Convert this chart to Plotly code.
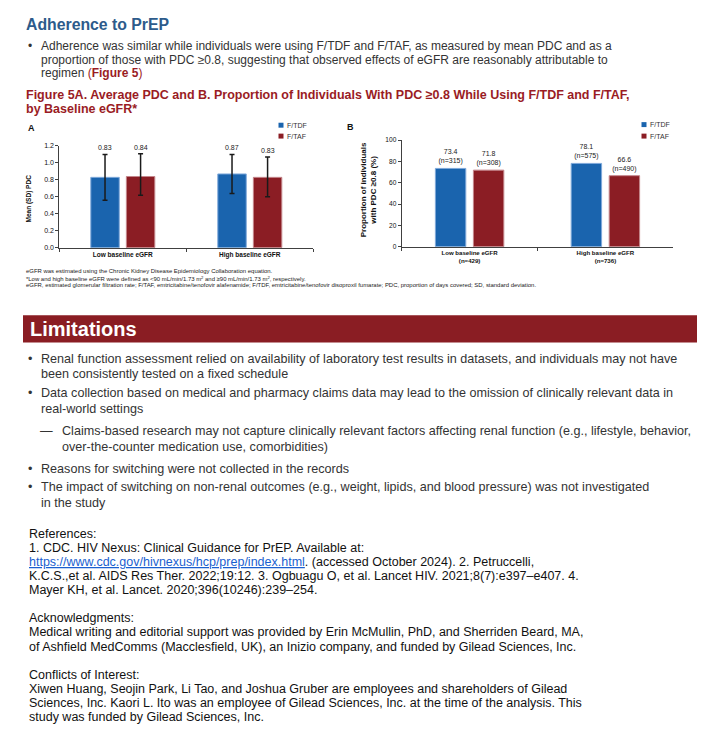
import plotly.graph_objects as go

# the page body has an 8px margin, so the figure is drawn 16px smaller
PAGE_W, PAGE_H, OFF = 715, 743, 8
W, H = PAGE_W - 2 * OFF, PAGE_H - 2 * OFF
FONT = "Arial, Liberation Sans, sans-serif"
TDF_COLOR = "#1a64ae"
TAF_COLOR = "#8b1d24"
TITLE_BLUE = "#2d5b8b"
FIG_RED = "#9a1c24"
TEXT_COLOR = "#333333"
BODY = 12.5

SERIES = ["F/TDF", "F/TAF"]

# Figure 5A: mean (SD) PDC
categories_a = ["Low baseline eGFR", "High baseline eGFR"]
tdf_pdc = [0.83, 0.87]
taf_pdc = [0.84, 0.83]
tdf_sd_up = [0.27, 0.23]
tdf_sd_down = [0.27, 0.23]
taf_sd_up = [0.27, 0.24]
taf_sd_down = [0.22, 0.23]
ticks_a = [0.0, 0.2, 0.4, 0.6, 0.8, 1.0, 1.2]

# Figure 5B: proportion with PDC >= 0.8
categories_b = ["Low baseline eGFR<br>(n=429)", "High baseline eGFR<br>(n=736)"]
tdf_prop = [73.4, 78.1]
taf_prop = [71.8, 66.6]
tdf_n = [315, 575]
taf_n = [308, 490]
ticks_b = [0, 20, 40, 60, 80, 100]


def px(x):
    return (x - OFF) / W


def py(y):
    return 1 - (y - OFF) / H


fig = go.Figure()

# --- panel A
for name, vals, up, down, color, line in [
    (SERIES[0], tdf_pdc, tdf_sd_up, tdf_sd_down, TDF_COLOR, "#7fa9da"),
    (SERIES[1], taf_pdc, taf_sd_up, taf_sd_down, TAF_COLOR, "#c4868b"),
]:
    fig.add_trace(
        go.Bar(
            x=categories_a,
            y=vals,
            name=name,
            marker=dict(color=color, line=dict(color=line, width=1)),
            error_y=dict(type="data", symmetric=False, array=up, arrayminus=down,
                         color="#1a1a1a", thickness=1.5, width=2.5),
            xaxis="x", yaxis="y", showlegend=False,
        )
    )

# --- panel B
for name, vals, ns, color, line in [
    (SERIES[0], tdf_prop, tdf_n, TDF_COLOR, "#7fa9da"),
    (SERIES[1], taf_prop, taf_n, TAF_COLOR, "#c4868b"),
]:
    fig.add_trace(
        go.Bar(
            x=categories_b,
            y=vals,
            name=name,
            marker=dict(color=color, line=dict(color=line, width=1)),
            text=[f"{v:.1f}<br>(n={n})" for v, n in zip(vals, ns)],
            textposition="outside",
            constraintext="none",
            cliponaxis=False,
            textfont=dict(size=7, color="#222222", family=FONT),
            xaxis="x2", yaxis="y2", showlegend=False,
        )
    )

axis_common = dict(
    showgrid=False, zeroline=False, showline=True, linecolor="#404040",
    linewidth=1, ticks="outside", ticklen=3, tickcolor="#404040",
)
fig.update_layout(
    width=W, height=H,
    margin=dict(l=0, r=0, t=0, b=0),
    paper_bgcolor="white", plot_bgcolor="white",
    font=dict(family=FONT, color=TEXT_COLOR),
    barmode="group", bargap=0.44, bargroupgap=0.2,
    xaxis=dict(domain=[px(59.3), px(313.3)], anchor="y", tickson="boundaries",
               tickfont=dict(size=6.5, color="#111111", weight="bold"), **axis_common),
    yaxis=dict(domain=[py(246), py(143.3)], anchor="x", range=[0, 1.2],
               tickvals=ticks_a, tickformat=".1f",
               tickfont=dict(size=7, color="#111111"), **axis_common),
    xaxis2=dict(domain=[px(401.7), px(673.3)], anchor="y2", tickson="boundaries",
                tickfont=dict(size=6.1, color="#111111", weight="bold"), **axis_common),
    yaxis2=dict(domain=[py(245), py(137.3)], anchor="x2", range=[0, 100],
                tickvals=ticks_b, tickfont=dict(size=6.6, color="#111111"), **axis_common),
)

ann = []


def text(x, y, s, size=BODY, color=TEXT_COLOR, bold=False, **kw):
    ann.append(dict(
        x=px(x), y=py(y), xref="paper", yref="paper", text=f"<b>{s}</b>" if bold else s,
        showarrow=False, xanchor=kw.pop("xanchor", "left"), yanchor=kw.pop("yanchor", "middle"),
        font=dict(size=size, color=color, family=FONT), **kw,
    ))


# value labels above the error bars in panel A
for vals, up, shift in [(tdf_pdc, tdf_sd_up, -18), (taf_pdc, taf_sd_up, 18)]:
    for c, v, e in zip(categories_a, vals, up):
        ann.append(dict(x=c, y=v + e, xref="x", yref="y", text=f"{v:.2f}", showarrow=False,
                        xshift=shift, yshift=1, yanchor="bottom",
                        font=dict(size=7, color="#222222", family=FONT)))

# legends
for lx, rows in [(278.5, (122.3, 133.3)), (641.5, (121.7, 133.3))]:
    for name, color, ry in zip(SERIES, [TDF_COLOR, TAF_COLOR], rows):
        fig.add_shape(type="rect", xref="paper", yref="paper", x0=px(lx), x1=px(lx + 5),
                      y0=py(ry + 2.5), y1=py(ry - 2.5), fillcolor=color, line_width=0)
        text(lx + 6.5, ry, name, size=7, color="#333333")

text(26, 125, "A", size=9, color="#111111", bold=True)
text(345, 124, "B", size=9, color="#111111", bold=True)
text(29.3, 196, "Mean (SD) PDC", size=6.5, color="#111111", bold=True,
     textangle=-90, xanchor="center")
text(368, 188, "Proportion of individuals<br>with PDC ≥0.8 (%)", size=8,
     color="#111111", bold=True, textangle=-90, xanchor="center")

# header
text(24, 21, "Adherence to PrEP", size=15.8, color=TITLE_BLUE, bold=True)
text(26, 42, "•", size=12)
text(39, 42, "Adherence was similar while individuals were using F/TDF and F/TAF, as measured by mean PDC and as a", size=12)
text(39, 56, "proportion of those with PDC ≥0.8, suggesting that observed effects of eGFR are reasonably attributable to", size=12)
text(39, 70, f"regimen <span style='color:{FIG_RED}'>(<b>Figure 5</b>)</span>", size=12)
text(24, 92, "Figure 5A. Average PDC and B. Proportion of Individuals With PDC ≥0.8 While Using F/TDF and F/TAF,",
     size=12.5, color=FIG_RED, bold=True)
text(24, 105.5, "by Baseline eGFR*", size=12.5, color=FIG_RED, bold=True)

# footnotes
foot = [
    "eGFR was estimated using the Chronic Kidney Disease Epidemiology Collaboration equation.",
    "*Low and high baseline eGFR were defined as &lt;90 mL/min/1.73 m<sup>2</sup> and ≥90 mL/min/1.73 m<sup>2</sup>, respectively.",
    "eGFR, estimated glomerular filtration rate; F/TAF, emtricitabine/tenofovir alafenamide; F/TDF, emtricitabine/tenofovir disoproxil fumarate; PDC, proportion of days covered; SD, standard deviation.",
]
for i, s in enumerate(foot):
    text(24, 270 + i * 6.6, s, size=5.95, color="#222222")

# Limitations band
fig.add_shape(type="rect", xref="paper", yref="paper", x0=px(23), x1=px(697),
              y0=py(341.7), y1=py(314.3), fillcolor="#8a1d23", line_width=0, layer="below")
text(28, 328.5, "Limitations", size=20, color="white", bold=True)

lim = [
    (358, "•", "Renal function assessment relied on availability of laboratory test results in datasets, and individuals may not have"),
    (374, "", "been consistently tested on a fixed schedule"),
    (393, "•", "Data collection based on medical and pharmacy claims data may lead to the omission of clinically relevant data in"),
    (409, "", "real-world settings"),
    (431, "—", "Claims-based research may not capture clinically relevant factors affecting renal function (e.g., lifestyle, behavior,"),
    (447, "", "over-the-counter medication use, comorbidities)"),
    (469, "•", "Reasons for switching were not collected in the records"),
    (488, "•", "The impact of switching on non-renal outcomes (e.g., weight, lipids, and blood pressure) was not investigated"),
    (503.5, "", "in the study"),
]
sub = False
for y, mark, s in lim:
    if mark == "•":
        sub = False
        text(26, y, mark, size=12.6)
    elif mark == "—":
        sub = True
        text(38, y, mark, size=12.6)
    text(60 if sub else 39, y, s, size=12.6)

refs = [
    (535, "References:"),
    (549.5, "1. CDC. HIV Nexus: Clinical Guidance for PrEP. Available at:"),
    (563.5, "<a href='https://www.cdc.gov/hivnexus/hcp/prep/index.html' style='color:#1a5fd0'>"
            "<u>https://www.cdc.gov/hivnexus/hcp/prep/index.html</u></a>. (accessed October 2024). 2. Petruccelli,"),
    (577.5, "K.C.S.,et al. AIDS Res Ther. 2022;19:12. 3. Ogbuagu O, et al. Lancet HIV. 2021;8(7):e397–e407. 4."),
    (591.5, "Mayer KH, et al. Lancet. 2020;396(10246):239–254."),
    (620, "Acknowledgments:"),
    (634.5, "Medical writing and editorial support was provided by Erin McMullin, PhD, and Sherriden Beard, MA,"),
    (649, "of Ashfield MedComms (Macclesfield, UK), an Inizio company, and funded by Gilead Sciences, Inc."),
    (677, "Conflicts of Interest:"),
    (691.5, "Xiwen Huang, Seojin Park, Li Tao, and Joshua Gruber are employees and shareholders of Gilead"),
    (705.5, "Sciences, Inc. Kaori L. Ito was an employee of Gilead Sciences, Inc. at the time of the analysis. This"),
    (720, "study was funded by Gilead Sciences, Inc."),
]
for y, s in refs:
    text(27, y, s, size=BODY, color="#111111")

fig.update_layout(annotations=ann)
fig.write_html("out.html")
